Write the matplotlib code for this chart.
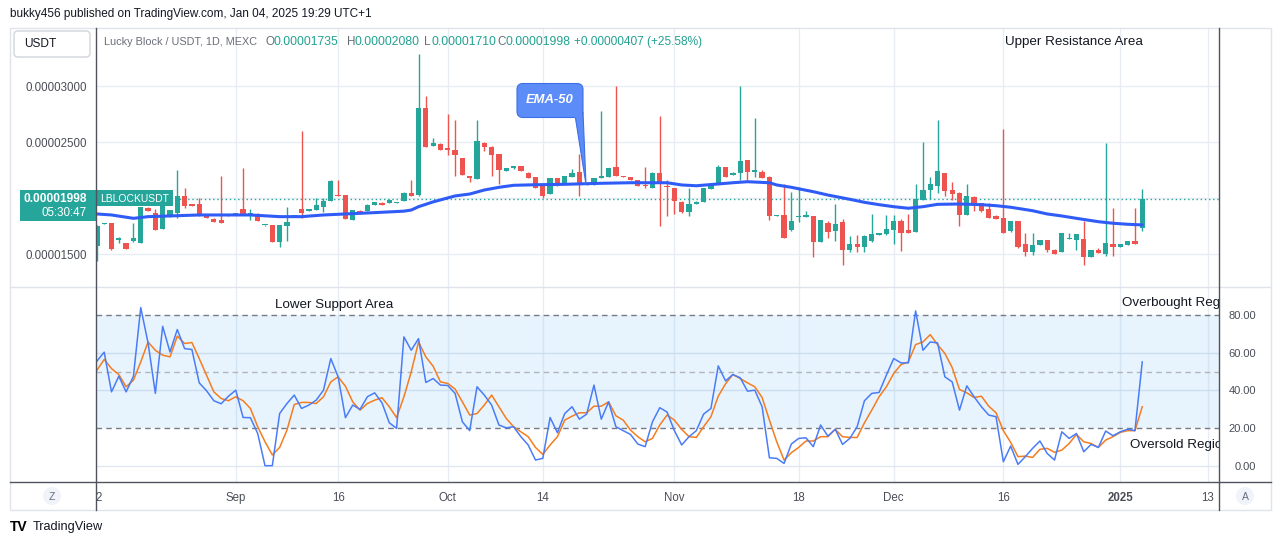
import matplotlib
matplotlib.use("Agg")
import matplotlib.pyplot as plt
from matplotlib.patches import Rectangle, FancyBboxPatch, Polygon, Circle
from matplotlib.lines import Line2D
from matplotlib.transforms import Affine2D

W, H = 1281, 545
plt.rcParams['font.family'] = ['Liberation Sans', 'DejaVu Sans']

# LBLOCK/USDT daily candles (MEXC), prices in units of 1e-8 USDT
opens = [1574, 1770, 1777, 1625, 1598, 1616, 1601, 1917, 1866, 1726, 1839, 1869, 2018, 1946, 1946,
         1842, 1819, 1804, 1857, 1857, 1908, 1855, 1857, 1757, 1759, 1610, 1753, 1838, 1902, 1886,
         1899, 1922, 1976, 2027, 2027, 1806, 1890, 1887, 1940, 1961, 1958, 1958, 1976, 2051, 2027,
         2810, 2467, 2488, 2453, 2435, 2357, 2196, 2173, 2497, 2462, 2393, 2244, 2268, 2286, 2229,
         2187, 2110, 2038, 2179, 2137, 2190, 2232, 2122, 2119, 2185, 2190, 2277, 2199, 2187, 2161,
         2116, 2092, 2229, 2113, 2089, 1970, 1875, 1949, 1967, 2083, 2134, 2280, 2208, 2226, 2339,
         2235, 2232, 2190, 1842, 1848, 1714, 1833, 1836, 1839, 1610, 1780, 1708, 1786, 1536, 1589,
         1565, 1616, 1676, 1679, 1720, 1795, 1714, 1699, 1988, 2071, 2110, 2223, 2071, 2045, 1851,
         2012, 1955, 1905, 1842, 1821, 1705, 1795, 1589, 1518, 1583, 1625, 1542, 1521, 1637, 1631,
         1634, 1476, 1536, 1503, 1589, 1568, 1583, 1616, 1735]
highs = [1760, 1778, 1780, 1655, 1600, 1783, 1925, 1920, 1908, 1935, 1896, 2250, 2089, 1950, 2000,
         1845, 1822, 2196, 1860, 1866, 2268, 1908, 1869, 1765, 1762, 1762, 1920, 1842, 2598, 1903,
         2006, 2006, 2160, 2167, 2030, 1896, 1893, 1947, 1966, 1964, 1990, 1966, 2053, 2167, 3292,
         2911, 2542, 2491, 2756, 2696, 2360, 2199, 2696, 2500, 2465, 2396, 2270, 2288, 2289, 2232,
         2190, 2113, 2182, 2182, 2199, 2265, 2399, 2134, 2182, 2777, 2270, 3000, 2201, 2190, 2163,
         2277, 2232, 2738, 2161, 2092, 1973, 2089, 1973, 2092, 2134, 2295, 2283, 2232, 3000, 2342,
         2720, 2250, 2196, 1854, 2125, 2054, 2098, 1890, 1842, 1807, 1795, 1946, 1812, 1661, 1670,
         1670, 1857, 1690, 1848, 1848, 1812, 1857, 2125, 2500, 2187, 2696, 2226, 2146, 2054, 2125,
         2024, 1958, 1955, 1850, 2616, 1798, 1798, 1687, 1690, 1628, 1628, 1545, 1690, 1687, 1684,
         1795, 1539, 1554, 2491, 1911, 1595, 1619, 1911, 2080]
lows = [1437, 1768, 1540, 1604, 1545, 1610, 1598, 1885, 1715, 1722, 1836, 1828, 1917, 1928, 1845,
        1825, 1786, 1777, 1842, 1855, 1848, 1804, 1795, 1755, 1607, 1565, 1616, 1836, 1824, 1884,
        1897, 1878, 1972, 2018, 1812, 1803, 1860, 1884, 1938, 1937, 1955, 1956, 1973, 2018, 2018,
        2455, 2464, 2428, 2384, 2196, 2205, 2146, 2170, 2420, 2196, 2125, 2241, 2265, 2241, 2178,
        2089, 2003, 2035, 2113, 2134, 2187, 2021, 2119, 2116, 2182, 2187, 2196, 2187, 2160, 2107,
        2092, 2089, 1753, 1842, 1857, 1872, 1839, 1946, 1964, 2080, 2131, 2187, 2205, 2161, 2146,
        2190, 2178, 1804, 1839, 1642, 1710, 1789, 1833, 1476, 1607, 1645, 1616, 1402, 1521, 1521,
        1521, 1613, 1670, 1676, 1595, 1529, 1688, 1696, 1985, 1997, 2051, 2021, 1988, 1753, 1848,
        1884, 1880, 1821, 1812, 1690, 1702, 1560, 1485, 1491, 1580, 1518, 1500, 1518, 1634, 1542,
        1408, 1473, 1509, 1485, 1485, 1565, 1580, 1590, 1710]
closes = [1750, 1776, 1547, 1643, 1547, 1649, 1922, 1887, 1717, 1931, 1893, 2018, 1931, 1931, 1848,
          1828, 1789, 1780, 1845, 1863, 1851, 1860, 1798, 1762, 1610, 1759, 1792, 1840, 1869, 1900,
          1937, 1973, 2152, 2021, 1815, 1893, 1863, 1944, 1964, 1940, 1988, 1964, 2051, 2021, 2810,
          2458, 2497, 2431, 2431, 2387, 2208, 2179, 2509, 2458, 2384, 2253, 2268, 2286, 2244, 2181,
          2092, 2021, 2179, 2116, 2196, 2223, 2119, 2130, 2179, 2196, 2268, 2199, 2190, 2163, 2110,
          2107, 2229, 2128, 2101, 1973, 1875, 1952, 1970, 2089, 2131, 2277, 2190, 2229, 2330, 2232,
          2250, 2181, 1842, 1851, 1645, 1795, 1842, 1842, 1610, 1804, 1696, 1768, 1536, 1589, 1565,
          1667, 1679, 1685, 1729, 1795, 1690, 1690, 1991, 2071, 2125, 2241, 2062, 2038, 1851, 2018,
          1952, 1884, 1824, 1815, 1694, 1795, 1562, 1518, 1580, 1625, 1536, 1503, 1687, 1643, 1681,
          1476, 1536, 1512, 1598, 1565, 1592, 1616, 1592, 1998]

# EMA-50 (bar index, price in 1e-8)
ema_bar = [0, 2, 5, 7, 14, 21, 25, 28, 31, 34, 38, 42, 43, 44, 46, 49, 51, 53, 55, 57, 60, 64,
           69, 73, 78, 80, 82, 85, 87, 89, 92, 93, 95, 98, 100, 103, 105, 107, 109, 111, 113, 115,
           118, 121, 123, 125, 128, 130, 132, 134, 137, 139, 141, 143]
ema_val = [1860, 1851, 1821, 1836, 1851, 1851, 1836, 1836, 1851, 1860, 1872, 1885, 1895, 1925, 1968,
           2021, 2038, 2074, 2098, 2116, 2121, 2125, 2134, 2139, 2139, 2119, 2112, 2128, 2139, 2148,
           2139, 2119, 2098, 2059, 2029, 1991, 1964, 1943, 1925, 1911, 1925, 1946, 1949, 1943, 1934,
           1920, 1889, 1860, 1842, 1821, 1791, 1777, 1768, 1762]

# oscillator pane: fast line (blue) and its signal (orange)
osc_k = [55.5, 60.3, 39.2, 47.5, 39.2, 47.5, 84, 65.2, 38.4, 74, 60.4, 72.3, 62.2, 61.7, 44,
         39.8, 34.5, 32.9, 36.9, 40.1, 25.6, 25.5, 17.1, 0, 0, 27.7, 33, 37.5, 30.4, 32.2,
         34.8, 40.1, 56.9, 47.2, 25.5, 32.2, 29.9, 36.6, 38.7, 33.4, 22.8, 19.8, 68.4, 61.3, 67.5,
         44.2, 46.3, 42.8, 42.6, 38.4, 23.3, 18.6, 41.9, 37.5, 32.2, 21.6, 20.1, 20.7, 15.4, 11,
         3, 3.9, 25.6, 17.5, 27.7, 31.3, 24.7, 27.4, 42.8, 24.7, 33.9, 20.7, 18.6, 16.6, 11.5,
         10.1, 23.3, 30.8, 28.5, 18.6, 11, 15.4, 18.6, 27.4, 30.4, 53, 45, 48.4, 46.7, 39.6,
         40.1, 31.3, 4.2, 3.9, 1.2, 11.5, 14.5, 14.8, 10.1, 21.6, 15.7, 19.4, 11.3, 14.5, 20.7,
         34.5, 38.4, 38.9, 48.1, 56.9, 54.6, 54.6, 82.2, 61.3, 65.7, 65.2, 47.2, 44.5, 29.5, 42.4,
         36.6, 31.3, 26.9, 26, 2.1, 10.4, 0.7, 4.8, 9.2, 13.1, 6.5, 3, 18, 14.5, 17.1,
         7.4, 11.3, 9.7, 18.4, 15.9, 18, 19.4, 18.6, 55.1]
osc_d = [50.7, 56.4, 51.6, 48.4, 41.9, 45.4, 55.1, 65.7, 61.3, 58.7, 57.8, 68.8, 64.9, 65.4, 56.9,
         48.1, 39.2, 35.7, 34.5, 36.6, 34.5, 30.4, 20.7, 12.7, 5.7, 9.7, 18.9, 32.5, 33.6, 33.6,
         33, 36.6, 44.5, 47.2, 42.2, 33.9, 29.5, 33, 34.8, 36.1, 31.3, 25.5, 36.6, 49.8, 65.7,
         57.8, 52.8, 44.5, 43.7, 40.7, 33.9, 26.9, 27.7, 32.2, 37.5, 31.3, 25.1, 20.7, 18, 15.4,
         9.7, 6, 11, 15.4, 24.2, 26.3, 28.1, 28.1, 31.6, 31.6, 33.9, 26.5, 24.2, 18.9, 15.4,
         12.7, 14.5, 21.6, 26.9, 24.2, 19.3, 15.4, 15, 20.7, 26, 36.9, 43.5, 48.4, 46.3, 44,
         41.9, 36.2, 24.2, 12.7, 3, 6.9, 9.7, 13.1, 13.1, 15.4, 15.4, 19.3, 15.4, 15, 15,
         22.8, 29.5, 36.6, 41.9, 49, 53.7, 55.1, 64.3, 65.7, 69.6, 64.3, 59.6, 52.1, 40.5, 38.7,
         36.2, 36.9, 31.6, 28.1, 18.6, 12.4, 4.8, 5.1, 4.4, 8.7, 9.2, 7.1, 8.3, 11.8, 16.6,
         12.7, 11.8, 9.7, 13.6, 15.4, 17.7, 18.6, 18.6, 31.3]

date_ticks = [19, 33, 48, 61, 79, 96, 109, 124, 140, 152]
date_labels = ["Sep", "16", "Oct", "14", "Nov", "18", "Dec", "16", "2025", "13"]
price_ticks = [1500, 2000, 2500, 3000]
osc_ticks = [0, 20, 40, 60, 80]

UP, DOWN = '#26a69a', '#ef5350'
GRID = '#e8edf4'
TEXT = '#131722'

fig = plt.figure(figsize=(W / 100, H / 100), dpi=100)
pix = Affine2D().scale(1 / W, -1 / H).translate(0, 1) + fig.transFigure


def ftext(x, y, s, **kw):
    kw.setdefault('va', 'center')
    fig.text(x / W, 1 - y / H, s, **kw)


def fline(x0, y0, x1, y1, color, lw=1.0):
    fig.add_artist(Line2D([x0, x1], [y0, y1], transform=pix, color=color, lw=lw))


left, right = 96, 1219
ax = fig.add_axes([left / W, 1 - 287.3 / H, (right - left) / W, (287.3 - 28) / H])
ax2 = fig.add_axes([left / W, 1 - 482 / H, (right - left) / W, (482 - 287.3) / H], sharex=ax)

ax.set_xlim(-0.12, 153.5)
ax.set_ylim(1205, 3521)
ax2.set_ylim(-8.66, 94.74)

for a in (ax, ax2):
    for s in a.spines.values():
        s.set_visible(False)
    for t in date_ticks:
        a.axvline(t, color=GRID, lw=1, zorder=0)

# price pane
for p in price_ticks:
    ax.axhline(p, color=GRID, lw=1, zorder=0)
n = len(closes)
idx = list(range(n))
colors = [UP if c >= o else DOWN for o, c in zip(opens, closes)]
ax.vlines(idx, lows, highs, colors=colors, lw=1, zorder=2)
bottoms = [min(o, c) for o, c in zip(opens, closes)]
heights = [max(abs(c - o), 12) for o, c in zip(opens, closes)]
ax.bar(idx, heights, bottom=bottoms, width=0.72, color=colors, zorder=3, linewidth=0)
ax.plot(ema_bar, ema_val, color='#2f5cf6', lw=2.2, zorder=4, solid_capstyle='round')
ax.axhline(closes[-1], color=UP, lw=1, ls=(0, (1, 2)), zorder=1)

ax.set_yticks(price_ticks)
ax.set_yticklabels([f"{p * 1e-8:.8f}" for p in price_ticks])
ax.tick_params(axis='y', length=0, pad=6.5, labelsize=8.3, labelcolor='#4a4d57')
ax.tick_params(axis='x', length=0, labelbottom=False)

ax.text(1005, 42, "Upper Resistance Area", transform=pix, fontsize=9.6, color=TEXT, va='center')

# oscillator pane
for v in [0, 40, 60]:
    ax2.axhline(v, color='#dfe7f1', lw=1, zorder=0)
ax2.axhspan(20, 80, color='#2196f3', alpha=0.1, lw=0, zorder=1)
ax2.axhline(80, color='#787b86', lw=1, ls=(0, (4, 3)), zorder=2)
ax2.axhline(20, color='#787b86', lw=1, ls=(0, (4, 3)), zorder=2)
ax2.axhline(50, color='#b2b5be', lw=1, ls=(0, (4, 3)), zorder=2)
ax2.plot(idx, osc_d, color='#f57c1f', lw=1.1, zorder=3)
ax2.plot(idx, osc_k, color='#4a7cf6', lw=1.1, zorder=4)

ax2.yaxis.tick_right()
ax2.set_yticks(osc_ticks)
ax2.set_yticklabels([f"{v:.2f}" for v in osc_ticks])
ax2.tick_params(axis='y', length=0, pad=26.5, labelsize=8, labelcolor='#4a4d57')
for lab in ax2.get_yticklabels():
    lab.set_horizontalalignment('right')

ax2.set_xticks([0.2] + date_ticks)
ax2.set_xticklabels(["2"] + date_labels)
ax2.tick_params(axis='x', length=0, pad=7, labelsize=8.3, labelcolor='#4a4d57')
for lab in ax2.get_xticklabels():
    if lab.get_text() == "2025":
        lab.set_fontweight('bold')

ax2.text(275, 305, "Lower Support Area", transform=pix, fontsize=9.6, color=TEXT, va='center')
ax2.text(1122, 303, "Overbought Region", transform=pix, fontsize=9.6, color=TEXT, va='center',
         clip_on=True)
ax2.text(1130, 445, "Oversold Region", transform=pix, fontsize=9.6, color=TEXT, va='center',
         clip_on=True)

# frame lines
fig.add_artist(Rectangle((10, 28), 1271 - 10, 510 - 28, transform=pix, fill=False,
                         edgecolor='#e0e3eb', lw=1))
fline(10, 287.3, 1271, 287.3, '#e0e3eb')
fline(10, 482, 1271, 482, '#50535e')
fline(left, 28, left, 510, '#50535e')
fline(right, 28, right, 510, '#50535e')

# header and legend row
ftext(10, 14, "bukky456 published on TradingView.com, Jan 04, 2025 19:29 UTC+1", fontsize=8.5, color=TEXT)
fig.add_artist(FancyBboxPatch((14, 31), 76, 26, boxstyle="round,pad=0,rounding_size=4",
                              transform=pix, facecolor='white', edgecolor='#d1d4dc', lw=1))
ftext(24, 44, "USDT", fontsize=8.6, color=TEXT)
GREY = '#6a6d78'
VAL = '#22a191'
ftext(104, 42, "Lucky Block / USDT, 1D, MEXC", fontsize=7.8, color=GREY)
for letter, lx, val, vx in [("O", 266, "0.00001735", 274), ("H", 347, "0.00002080", 355),
                            ("L", 424, "0.00001710", 431), ("C", 497, "0.00001998", 505)]:
    ftext(lx, 42, letter, fontsize=8.4, color=GREY)
    ftext(vx, 42, val, fontsize=8.8, color=VAL)
ftext(574, 42, "+0.00000407 (+25.58%)", fontsize=8.6, color=VAL)

# last price tag
fig.add_artist(Rectangle((20, 190), 76, 30.7, transform=pix, facecolor=UP, lw=0))
fig.add_artist(Rectangle((96.5, 190), 76.5, 16, transform=pix, facecolor=UP, lw=0))
ftext(87, 198.5, "0.00001998", fontsize=8.6, color='white', ha='right', fontweight='bold')
ftext(87, 213, "05:30:47", fontsize=8.4, color='white', ha='right')
ftext(100, 198.5, "LBLOCKUSDT", fontsize=7.5, color='white')

# EMA-50 callout
fig.add_artist(Polygon([(574.5, 112), (583, 112), (586, 184.5)], closed=True, transform=pix,
                       facecolor='#5b8cf7', edgecolor='#3e6fe6', lw=0.8))
fig.add_artist(FancyBboxPatch((517, 83.5), 66, 34, boxstyle="round,pad=0,rounding_size=6",
                              transform=pix, facecolor='#5b8cf7', edgecolor='#3e6fe6', lw=0.8))
fig.add_artist(Rectangle((575.3, 112), 7, 6, transform=pix, facecolor='#5b8cf7', lw=0))
ftext(549.5, 100, "EMA-50", fontsize=9.4, color='white', ha='center', fontstyle='italic',
      fontweight='bold')

# time axis corner buttons
for cx, s in [(52, "Z"), (1245, "A")]:
    fig.add_artist(Circle((cx, 496), 9, transform=pix, facecolor='#f0f3fa', edgecolor='none'))
    ftext(cx, 496.5, s, fontsize=7.5, color=GREY, ha='center')

# footer logo
ftext(10, 527, "TV", fontsize=10, color='black', fontweight='heavy')
ftext(33, 527, "TradingView", fontsize=9.2, color=TEXT)

fig.savefig("out.png", dpi=100, facecolor='white')
